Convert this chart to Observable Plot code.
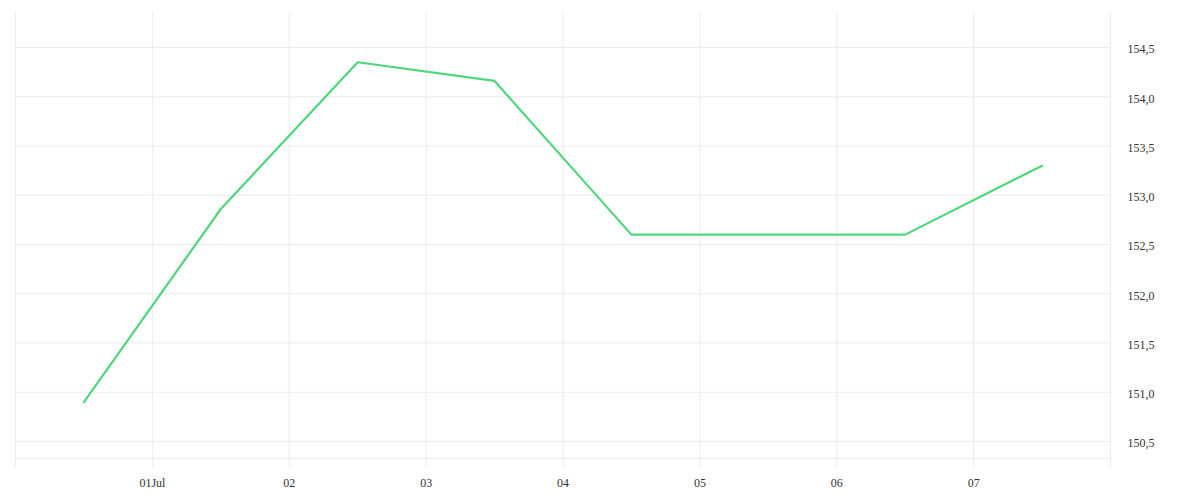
<!DOCTYPE html>
<html>
<head>
<meta charset="utf-8">
<script src="https://cdn.jsdelivr.net/npm/d3@7"></script>
<script src="https://cdn.jsdelivr.net/npm/@observablehq/plot@0.6"></script>
<style>
  html, body { margin: 0; padding: 0; background: #fff; }
  #chart svg { display: block; }
  #chart svg text { font-family: 'Liberation Serif', serif; }
</style>
</head>
<body>
<div id="chart"></div>
<script>
// Data
const dates = ["2023-06-30T12:00", "2023-07-01T12:00", "2023-07-02T12:00", "2023-07-03T12:00",
               "2023-07-04T12:00", "2023-07-05T12:00", "2023-07-06T12:00", "2023-07-07T12:00"];
const values = [150.90, 152.86, 154.35, 154.16, 152.60, 152.60, 152.60, 153.30];
const xDomain = ["2023-06-30T00:00", "2023-07-08T00:00"];
const gridDays = ["2023-06-30T00:00", "2023-07-01T00:00", "2023-07-02T00:00", "2023-07-03T00:00",
                  "2023-07-04T00:00", "2023-07-05T00:00", "2023-07-06T00:00", "2023-07-07T00:00",
                  "2023-07-08T00:00"];
const tickDays = ["2023-07-01T00:00", "2023-07-02T00:00", "2023-07-03T00:00", "2023-07-04T00:00",
                  "2023-07-05T00:00", "2023-07-06T00:00", "2023-07-07T00:00"];
const tickLabels = ["01Jul", "02", "03", "04", "05", "06", "07"];
const yTicks = [150.5, 151.0, 151.5, 152.0, 152.5, 153.0, 153.5, 154.0, 154.5];
const yDomain = [150.327, 154.855];

const parse = d3.isoParse;
const data = dates.map((d, i) => ({date: parse(d), value: values[i]}));
const labelMap = new Map(tickDays.map((d, i) => [+parse(d), tickLabels[i]]));
const fmtY = v => v.toFixed(1).replace(".", ",");

const gridColor = "#ececec";
const font = "'Liberation Serif', serif";

const chart = Plot.plot({
  width: 1200,
  height: 500,
  marginLeft: 15,
  marginRight: 90,
  marginTop: 12,
  marginBottom: 42,
  style: {fontFamily: font, fontSize: "11px", color: "#333", background: "#fff"},
  x: {type: "time", domain: xDomain.map(parse), label: null},
  y: {domain: yDomain, label: null},
  marks: [
    Plot.gridY(yTicks, {stroke: gridColor, strokeOpacity: 1}),
    Plot.ruleY([yDomain[0]], {stroke: gridColor}),
    Plot.ruleX(gridDays.map(parse), {stroke: gridColor, y1: yDomain[1], y2: yDomain[0], insetBottom: -9}),
    Plot.axisX(tickDays.map(parse), {
      tickSize: 0, tickPadding: 20, tickFormat: d => labelMap.get(+d), fill: "#333",
      fontSize: 12, fontFamily: font, label: null
    }),
    Plot.axisY(yTicks, {
      anchor: "right", tickSize: 0, tickPadding: 17, tickFormat: fmtY, fill: "#333",
      fontSize: 12, fontFamily: font, textAnchor: "start", dy: 2, label: null
    }),
    Plot.line(data, {x: "date", y: "value", stroke: "#4fd67c", strokeWidth: 2.2})
  ]
});
document.getElementById("chart").appendChild(chart);
</script>
</body>
</html>
